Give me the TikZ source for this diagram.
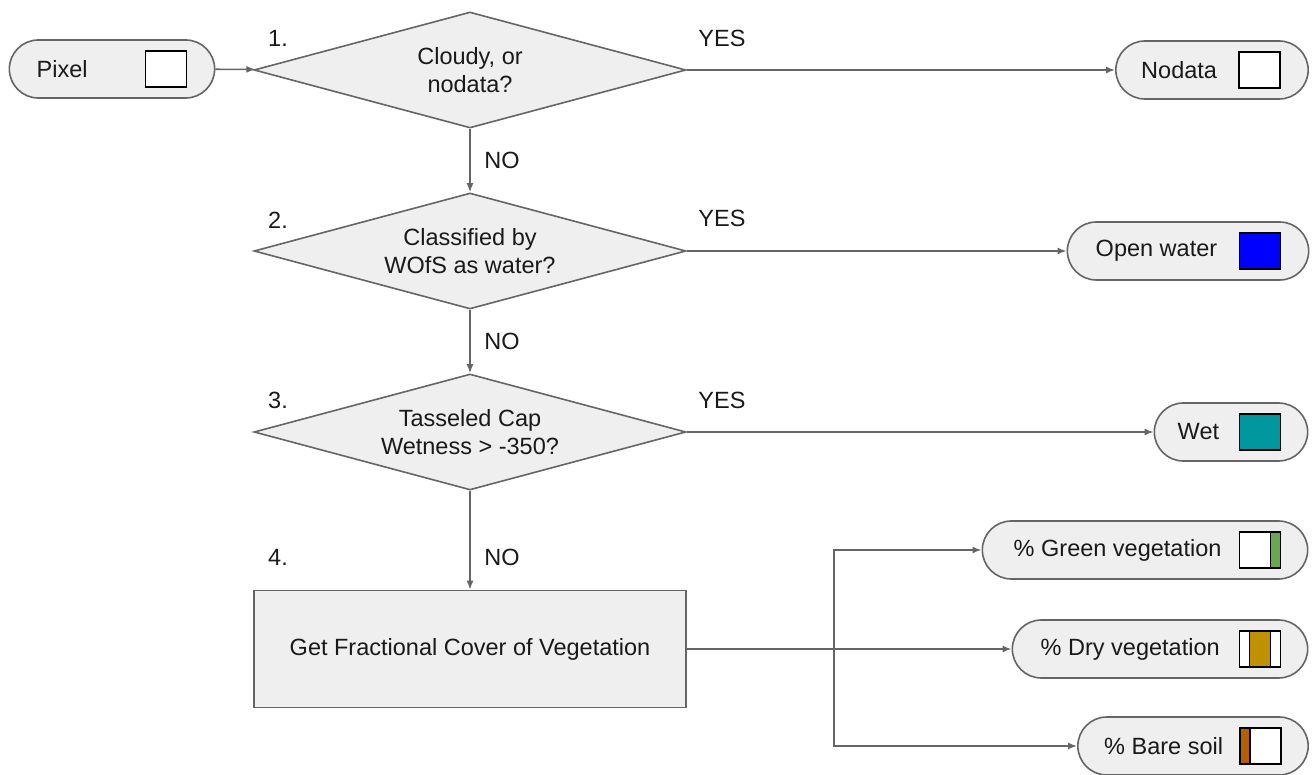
\documentclass[tikz,border=0pt]{standalone}
\usepackage{fontspec}
\setmainfont{Liberation Sans}
\usetikzlibrary{shapes.geometric,shapes.misc,arrows.meta,positioning}

\definecolor{boxfill}{HTML}{EFEFEF}
\definecolor{edgegray}{HTML}{656565}
\definecolor{waterblue}{HTML}{0000FF}
\definecolor{wetteal}{HTML}{00979F}
\definecolor{greenveg}{HTML}{6AA84F}
\definecolor{dryveg}{HTML}{BF9000}
\definecolor{baresoil}{HTML}{B45F06}

\tikzset{
  every node/.style={font=\fontsize{23.5}{28}\selectfont, text=black!90},
  decision/.style={diamond, aspect=3.72, draw=edgegray, fill=boxfill, line width=1.6pt,
    minimum width=432pt, minimum height=116pt, inner sep=0pt, align=center},
  process/.style={rectangle, draw=edgegray, fill=boxfill, line width=1.6pt,
    minimum width=432pt, minimum height=117pt},
  terminal/.style={rounded rectangle, draw=edgegray, fill=boxfill, line width=1.6pt,
    minimum height=58pt},
  swatch/.style={rectangle, draw=black, fill=white, line width=1.6pt,
    minimum width=41pt, minimum height=36pt, inner sep=0pt},
  tlabel/.style={inner sep=0pt},
  flow/.style={draw=edgegray, line width=1.6pt, -{Latex[length=9pt,width=7pt]}},
  bar/.style 2 args={path picture={
    \filldraw[draw=black, line width=1.6pt, fill=#1]
      ([xshift=#2]path picture bounding box.north west) rectangle
      ([xshift=#2+10pt]path picture bounding box.south west);}},
  midbar/.style={path picture={
    \filldraw[draw=black, line width=1.6pt, fill=#1]
      ([xshift=10pt]path picture bounding box.north west) rectangle
      ([xshift=-10pt]path picture bounding box.south east);}},
}

\begin{document}
\begin{tikzpicture}[x=1pt, y=-1pt]
  \useasboundingbox (0,0) rectangle (1312,775);

  \node[terminal, minimum width=212pt] (pixel) at (112,69) {};
  \node[tlabel, right=28pt of pixel.west] (pixeltxt) {Pixel};
  \node[swatch, left=28pt of pixel.east] (pixelsw) {};

  \node[decision] (cloud) at (470,70) {Cloudy, or\\nodata?};
  \node[decision] (wofs) at (470,251) {Classified by\\WOfS as water?};
  \node[decision] (tcw) at (470,432) {Tasseled Cap\\Wetness > -350?};
  \node[process] (fc) at (470,649) {Get Fractional Cover of Vegetation};

  \node (n1) at (278,38) {1.};
  \node (n2) at (278,220) {2.};
  \node (n3) at (278,400) {3.};
  \node (n4) at (278,557) {4.};

  \node (yes1) at (722,38) {YES};
  \node (yes2) at (722,218) {YES};
  \node (yes3) at (722,400) {YES};
  \node (no1) at (502,160) {NO};
  \node (no2) at (502,341) {NO};
  \node (no3) at (502,557) {NO};

  \node[terminal, minimum width=199pt] (nodata) at (1212,70) {};
  \node[tlabel, right=26pt of nodata.west] (nodatatxt) {Nodata};
  \node[swatch, left=28pt of nodata.east] (nodatasw) {};

  \node[terminal, minimum width=248pt] (water) at (1188,251) {};
  \node[tlabel, right=29pt of water.west] (watertxt) {Open water};
  \node[swatch, fill=waterblue, left=28pt of water.east] (watersw) {};

  \node[terminal, minimum width=160pt] (wet) at (1231,432) {};
  \node[tlabel, right=24pt of wet.west] (wettxt) {Wet};
  \node[swatch, fill=wetteal, left=27pt of wet.east] (wetsw) {};

  \node[terminal, minimum width=332pt] (green) at (1145,550) {};
  \node[tlabel, right=32pt of green.west] (greentxt) {\% Green vegetation};
  \node[swatch, bar={greenveg}{31pt}, left=27pt of green.east] (greensw) {};

  \node[terminal, minimum width=302pt] (dry) at (1160,649) {};
  \node[tlabel, right=29pt of dry.west] (drytxt) {\% Dry vegetation};
  \node[swatch, midbar=dryveg, left=27pt of dry.east] (drysw) {};

  \node[terminal, minimum width=237pt] (bare) at (1193,746) {};
  \node[tlabel, right=27pt of bare.west] (baretxt) {\% Bare soil};
  \node[swatch, bar={baresoil}{0pt}, left=27pt of bare.east] (baresw) {};

  \coordinate (split) at (834,649);

  \draw[flow] (pixel) -- (cloud);
  \draw[flow] (cloud) -- (nodata);
  \draw[flow] (cloud) -- (wofs);
  \draw[flow] (wofs) -- (water);
  \draw[flow] (wofs) -- (tcw);
  \draw[flow] (tcw) -- (wet);
  \draw[flow] (tcw) -- (fc);
  \draw[draw=edgegray, line width=1.6pt] (fc.east) -- (split);
  \draw[flow] (split) |- (green.west);
  \draw[flow] (split) -- (dry.west);
  \draw[flow] (split) |- (bare.west);
\end{tikzpicture}
\end{document}
